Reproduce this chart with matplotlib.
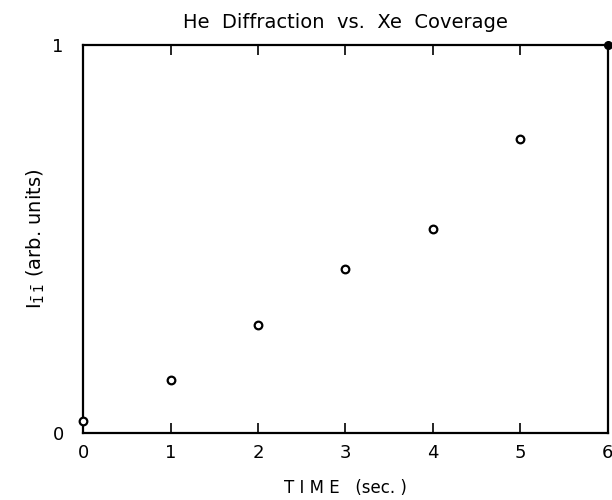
import matplotlib
matplotlib.use("Agg")
import matplotlib.pyplot as plt

# He diffraction intensity vs exposure time
time_s = [0, 1, 2, 3, 4, 5]
intensity = [0.031, 0.137, 0.279, 0.422, 0.527, 0.757]
end_time = [6]
end_intensity = [1.0]

x_ticks = [0, 1, 2, 3, 4, 5, 6]
y_ticks = [0, 1]

fig = plt.figure(figsize=(6.12, 5.00), dpi=100)
ax = fig.add_axes([0.136, 0.134, 0.857, 0.776])

ax.plot(time_s, intensity, "o", ms=5.5, mfc="white", mec="black", mew=1.6,
        clip_on=False, zorder=5)
ax.plot(end_time, end_intensity, "o", ms=5.5, mfc="black", mec="black",
        clip_on=False, zorder=5)

ax.set_xlim(0, 6)
ax.set_ylim(0, 1)
ax.set_xticks(x_ticks)
ax.set_yticks(y_ticks)
ax.tick_params(axis="x", direction="in", length=7, width=1.2, top=True,
               labelsize=13, pad=8)
ax.tick_params(axis="y", length=0, labelsize=13, pad=14)
for s in ax.spines.values():
    s.set_linewidth(1.6)

ax.set_title("He  Diffraction  vs.  Xe  Coverage", fontsize=14, pad=12)
ax.set_xlabel("T I M E   (sec. )", fontsize=12, labelpad=12)
ax.set_ylabel(r"$\mathrm{I}_{\bar{1}\,\bar{1}}$ (arb. units)", fontsize=14,
              labelpad=4)

fig.savefig("out.png", dpi=100)
